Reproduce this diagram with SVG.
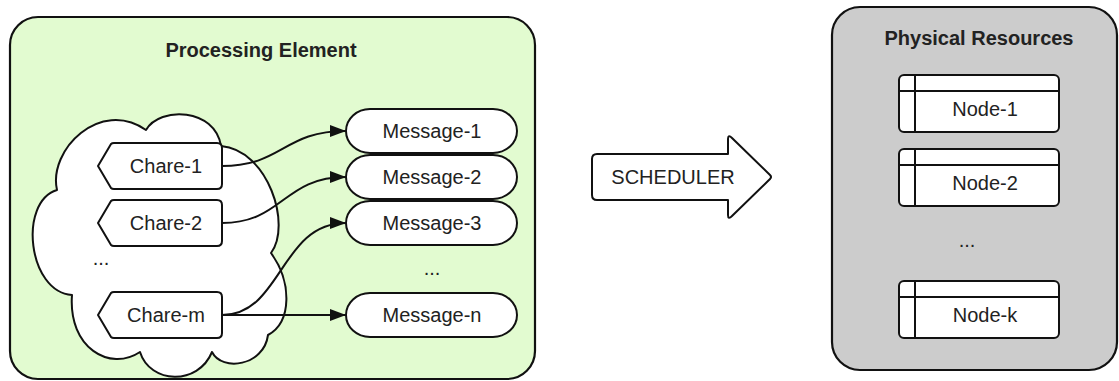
<svg xmlns="http://www.w3.org/2000/svg" width="1119" height="381" viewBox="0 0 1119 381">
  <style>
    .txt { font-family: "Liberation Sans", Arial, sans-serif; font-size: 20px; fill: #222; text-anchor: middle; dominant-baseline: central; }
    .title { font-weight: bold; }
    .shape { fill: #ffffff; stroke: #111; stroke-width: 2; stroke-linejoin: round; }
    .frame { stroke: #111; stroke-width: 2.2; }
    .wire { fill: none; stroke: #111; stroke-width: 2; }
  </style>
  <defs>
    <marker id="head" markerUnits="userSpaceOnUse" markerWidth="16" markerHeight="12" refX="16" refY="6" orient="auto">
      <path d="M0,0 L16,6 L0,12 Z" fill="#111"/>
    </marker>
    <!-- chare outline: pointed left end, rounded right corners; placed by translate -->
    <path id="chare-shape" d="M0,23 L13,1 Q14,0 16,0 L119,0 Q124,0 124,5 L124,41 Q124,46 119,46 L16,46 Q14,46 13,45 Z"/>
    <!-- node record box with header strip and side strip -->
    <g id="node-box">
      <rect x="0" y="0" width="160" height="57" rx="5" ry="5" class="shape"/>
      <line x1="16" y1="0" x2="16" y2="57" stroke="#111" stroke-width="2"/>
      <line x1="0" y1="16" x2="160" y2="16" stroke="#111" stroke-width="2"/>
    </g>
  </defs>

  <!-- processing element container -->
  <g id="processing-element">
    <rect x="10" y="17" width="525" height="362" rx="28" ry="28" fill="#e2fbd0" class="frame"/>
    <text x="261" y="50" class="txt title">Processing Element</text>
  </g>

  <!-- cloud holding the chares -->
  <g id="chare-cloud">
    <path class="shape" d="M146,130 C160,106 215,108 221,146 C268,150 292,225 271,253 C292,282 292,322 268,335 C264,366 222,372 212,352 C198,386 150,384 140,352 C110,372 68,348 72,295 C28,292 18,202 57,190 C48,150 100,98 146,130 Z"/>
    <text x="101" y="258" class="txt">...</text>
  </g>

  <g id="chare-1">
    <use href="#chare-shape" x="98" y="143" class="shape"/>
    <text x="166" y="166" class="txt">Chare-1</text>
  </g>
  <g id="chare-2">
    <use href="#chare-shape" x="98" y="200" class="shape"/>
    <text x="166" y="223" class="txt">Chare-2</text>
  </g>
  <g id="chare-m">
    <use href="#chare-shape" x="98" y="292" class="shape"/>
    <text x="166" y="315" class="txt">Chare-m</text>
  </g>

  <g id="message-1">
    <rect x="346" y="109" width="171" height="44" rx="24" ry="22" class="shape"/>
    <text x="432" y="131" class="txt">Message-1</text>
  </g>
  <g id="message-2">
    <rect x="346" y="155" width="171" height="44" rx="24" ry="22" class="shape"/>
    <text x="432" y="177" class="txt">Message-2</text>
  </g>
  <g id="message-3">
    <rect x="346" y="201" width="171" height="44" rx="24" ry="22" class="shape"/>
    <text x="432" y="223" class="txt">Message-3</text>
  </g>
  <g id="message-ellipsis">
    <text x="432" y="268" class="txt">...</text>
  </g>
  <g id="message-n">
    <rect x="346" y="293" width="171" height="44" rx="24" ry="22" class="shape"/>
    <text x="432" y="315" class="txt">Message-n</text>
  </g>

  <!-- chare to message connectors -->
  <g id="connectors">
    <path class="wire" d="M222,166 C283,166 283,131 346,131" marker-end="url(#head)"/>
    <path class="wire" d="M222,223 C283,223 283,177 346,177" marker-end="url(#head)"/>
    <path class="wire" d="M222,315 C282,315 280,223 346,223" marker-end="url(#head)"/>
    <path class="wire" d="M222,315 L346,315" marker-end="url(#head)"/>
  </g>

  <!-- scheduler block arrow -->
  <g id="scheduler">
    <path class="shape" d="M597,154 L728,154 L728,139 Q728,134 732,138 L770,175 Q772,177 770,179 L732,216 Q728,220 728,215 L728,200 L597,200 Q592,200 592,195 L592,159 Q592,154 597,154 Z"/>
    <text x="673" y="177" class="txt">SCHEDULER</text>
  </g>

  <!-- physical resources container -->
  <g id="physical-resources">
    <rect x="832" y="7" width="285" height="363" rx="28" ry="28" fill="#cccccc" class="frame"/>
    <text x="979" y="38" class="txt title">Physical Resources</text>
  </g>

  <g id="node-1">
    <use href="#node-box" x="899" y="75"/>
    <text x="985" y="109" class="txt">Node-1</text>
  </g>
  <g id="node-2">
    <use href="#node-box" x="899" y="149"/>
    <text x="985" y="183" class="txt">Node-2</text>
  </g>
  <g id="node-ellipsis">
    <text x="967" y="240" class="txt">...</text>
  </g>
  <g id="node-k">
    <use href="#node-box" x="899" y="281"/>
    <text x="985" y="315" class="txt">Node-k</text>
  </g>
</svg>
